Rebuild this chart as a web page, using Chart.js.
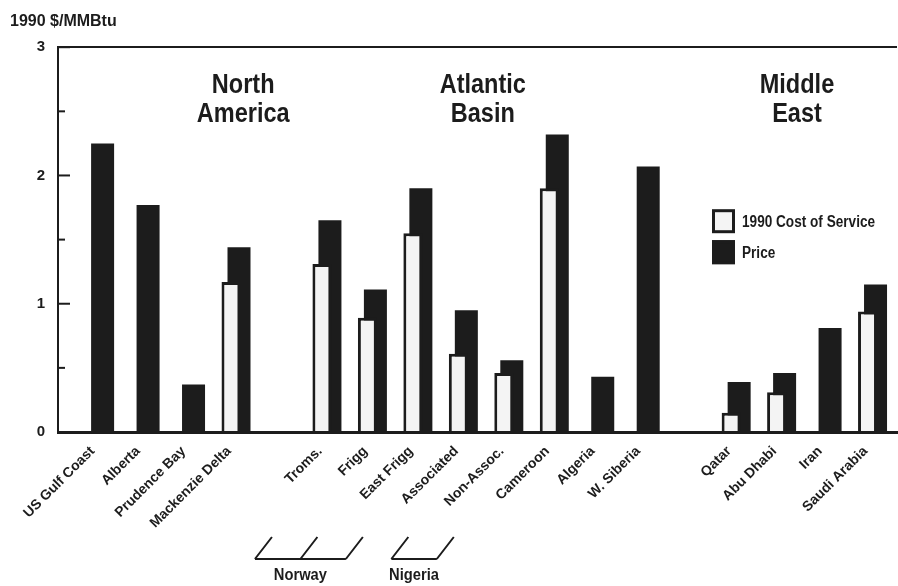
<!DOCTYPE html>
<html>
<head>
<meta charset="utf-8">
<title>Gas cost of service and price</title>
<script src="https://cdn.jsdelivr.net/npm/chart.js@4.4.1/dist/chart.umd.min.js"></script>
<style>
  body { margin: 0; background: #fff; }
</style>
</head>
<body>
<canvas id="myChart" width="898" height="586"></canvas>
<script>
//---------------------Data-----------------------------
// empty strings are the blank slots between regions
const categories = ["US Gulf Coast", "Alberta", "Prudence Bay", "Mackenzie Delta", "",
  "Troms.", "Frigg", "East Frigg", "Associated", "Non-Assoc.", "Cameroon", "Algeria", "W. Siberia", "",
  "Qatar", "Abu Dhabi", "Iran", "Saudi Arabia"];
const costOfService = [null, null, null, 1.17, null, 1.31, 0.89, 1.55, 0.61, 0.46, 1.90, null, null, null, 0.15, 0.31, null, 0.94];
const price = [2.25, 1.77, 0.37, 1.44, null, 1.65, 1.11, 1.90, 0.95, 0.56, 2.32, 0.43, 2.07, null, 0.39, 0.46, 0.81, 1.15];
const seriesNames = ["1990 Cost of Service", "Price"];
const yTickLabels = [0, 1, 2, 3];

const regions = [
  { lines: ["North", "America"], at: 3.18 },
  { lines: ["Atlantic", "Basin"], at: 8.45 },
  { lines: ["Middle", "East"], at: 15.36 },
];
const countries = [
  { name: "Norway", from: 5, to: 7 },
  { name: "Nigeria", from: 8, to: 9 },
];

//---------------------Style-----------------------------
const INK = "#1c1c1c";
const FONT = "'Liberation Sans', Arial, sans-serif";

Chart.defaults.font.family = FONT;
Chart.defaults.font.weight = "bold";
Chart.defaults.color = INK;

function toPoints(values) {
  return values.map((v, i) => ({ x: i, y: v }));
}

// condensed text: the original uses a narrow bold face
function narrowText(c, text, x, y, size, squeeze) {
  c.save();
  c.font = "bold " + size + "px " + FONT;
  c.translate(x, y);
  c.scale(squeeze, 1);
  c.fillText(text, 0, 0);
  c.restore();
}

// inward y ticks, region titles, country brackets and the legend box
const extras = {
  id: "extras",
  afterDraw(chart) {
    const c = chart.ctx;
    const x = chart.scales.x;
    const y = chart.scales.y;
    const area = chart.chartArea;
    c.save();

    c.strokeStyle = INK;
    c.lineWidth = 2;
    y.ticks.forEach((t) => {
      const py = y.getPixelForValue(t.value);
      const len = Number.isInteger(t.value) ? 12 : 7;
      c.beginPath();
      c.moveTo(area.left, py);
      c.lineTo(area.left + len, py);
      c.stroke();
    });

    c.fillStyle = INK;
    c.textAlign = "center";
    c.textBaseline = "alphabetic";
    regions.forEach((r) => {
      const px = x.getPixelForValue(r.at);
      r.lines.forEach((s, i) => narrowText(c, s, px, area.top + 46 + i * 29, 28, 0.84));
    });

    const top = area.bottom + 105;
    const bot = area.bottom + 127;
    countries.forEach((g) => {
      const xs = [];
      for (let i = g.from; i <= g.to; i++) xs.push(x.getPixelForValue(i));
      c.beginPath();
      xs.forEach((px) => {
        c.moveTo(px - 54, top);
        c.lineTo(px - 71, bot);
      });
      c.moveTo(xs[0] - 71, bot);
      c.lineTo(xs[xs.length - 1] - 71, bot);
      c.stroke();
      narrowText(c, g.name, (xs[0] + xs[xs.length - 1]) / 2 - 71, area.bottom + 148, 16, 0.92);
    });

    const lx = area.right - 185;
    const ly = area.top + 162;
    c.textAlign = "left";
    c.textBaseline = "middle";
    seriesNames.forEach((name, i) => {
      const ds = chart.data.datasets[i];
      const ty = ly + i * 31;
      c.fillStyle = ds.backgroundColor;
      c.fillRect(lx, ty, 23, 24);
      c.lineWidth = 3;
      c.strokeStyle = INK;
      c.strokeRect(lx + 1.5, ty + 1.5, 20, 21);
      c.fillStyle = INK;
      narrowText(c, name, lx + 30, ty + 13, 16, 0.85);
    });

    c.restore();
  },
};

//---------------------Chart-----------------------------
const ctx = document.getElementById("myChart");

const chart = new Chart(ctx, {
  type: "bar",
  data: {
    datasets: [
      {
        label: seriesNames[0],
        data: toPoints(costOfService),
        backgroundColor: "#f4f4f4",
        borderColor: INK,
        borderWidth: 3,
        barPercentage: 2.375,
      },
      {
        label: seriesNames[1],
        data: toPoints(price),
        backgroundColor: INK,
        borderWidth: 0,
        barPercentage: 2.875,
      },
    ],
  },
  options: {
    responsive: false,
    animation: false,
    datasets: { bar: { categoryPercentage: 0.352 } },
    layout: { padding: { left: 10, right: 1, top: 0, bottom: 0 } },
    plugins: {
      legend: { display: false },
      tooltip: { enabled: false },
      title: {
        display: true,
        text: "1990 $/MMBtu",
        align: "start",
        color: INK,
        font: { size: 16, weight: "bold" },
        padding: { top: 12, bottom: 16 },
      },
    },
    scales: {
      x: {
        type: "linear",
        offset: false,
        min: -0.893,
        max: 17.56,
        grid: { display: false, drawTicks: false },
        border: { display: true, color: INK, width: 3 },
        afterBuildTicks: (s) => {
          s.ticks = categories.map((_, i) => ({ value: i }));
        },
        afterFit: (s) => {
          s.height = 154;
        },
        ticks: {
          autoSkip: false,
          minRotation: 45,
          maxRotation: 45,
          padding: 11,
          labelOffset: -6,
          font: { size: 14, weight: "bold" },
          callback: (v) => categories[v] || "",
        },
      },
      y: {
        min: 0,
        max: 3,
        afterFit: (s) => {
          s.width = 48;
        },
        grid: {
          drawTicks: false,
          lineWidth: 2,
          color: (c) => (c.tick && c.tick.value === 3 ? INK : "rgba(0,0,0,0)"),
        },
        border: { display: true, color: INK, width: 2 },
        ticks: {
          stepSize: 0.5,
          padding: 13,
          font: { size: 15, weight: "bold" },
          callback: (v) => (yTickLabels.includes(v) ? v : ""),
        },
      },
    },
  },
  plugins: [extras],
});
</script>
</body>
</html>
